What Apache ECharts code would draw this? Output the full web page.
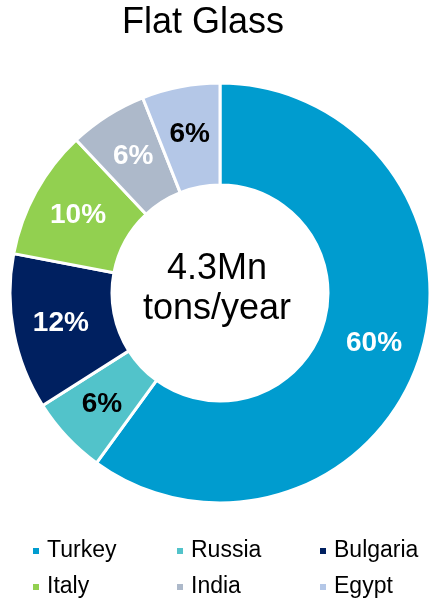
<!DOCTYPE html>
<html>
<head>
<meta charset="utf-8">
<script src="https://cdn.jsdelivr.net/npm/echarts@6/dist/echarts.min.js"></script>
<style>
html,body{margin:0;padding:0;background:#fff;}
#main{width:429px;height:601px;}
</style>
</head>
<body>
<div id="main"></div>
<script>
var categories = ['Turkey', 'Russia', 'Bulgaria', 'Italy', 'India', 'Egypt'];
var shares = [60, 6, 12, 10, 6, 6];
var sliceColors = ['#009CCF', '#52C3CA', '#002060', '#92D050', '#ADB9CA', '#B4C7E7'];
var labelColors = ['#fff', '#000', '#fff', '#fff', '#fff', '#000'];
var titleText = 'Flat Glass';
var centerText = '4.3Mn\ntons/year';

var FONT = '"Liberation Sans", Arial, sans-serif';
var chart = echarts.init(document.getElementById('main'), null, {renderer: 'canvas'});

var data = categories.map(function (c, i) {
  return {
    name: c,
    value: shares[i],
    itemStyle: {color: sliceColors[i]},
    label: {color: labelColors[i]}
  };
});

function legendFor(names, left) {
  return {
    orient: 'vertical',
    left: left,
    top: 539,
    data: names,
    icon: 'rect',
    itemWidth: 8,
    itemHeight: 8,
    itemGap: 12,
    padding: 0,
    selectedMode: false,
    textStyle: {fontFamily: FONT, fontSize: 23, color: '#000', lineHeight: 24, padding: [0, 0, 0, 2]}
  };
}

chart.setOption({
  animation: false,
  backgroundColor: '#fff',
  title: [
    {
      text: titleText,
      left: 122,
      top: 5,
      padding: 0,
      textStyle: {fontFamily: FONT, fontSize: 36, fontWeight: 'normal', color: '#000'}
    },
    {
      text: centerText,
      left: 217,
      top: 249,
      textAlign: 'center',
      padding: 0,
      textStyle: {fontFamily: FONT, fontSize: 36, fontWeight: 'normal', color: '#000', lineHeight: 40, align: 'center'}
    }
  ],
  legend: [
    legendFor([categories[0], categories[3]], 31),
    legendFor([categories[1], categories[4]], 175),
    legendFor([categories[2], categories[5]], 318)
  ],
  series: [{
    type: 'pie',
    center: [220, 293],
    radius: [108, 210],
    startAngle: 90,
    clockwise: true,
    avoidLabelOverlap: false,
    silent: true,
    itemStyle: {borderColor: '#fff', borderWidth: 3},
    label: {
      show: true,
      position: 'inside',
      fontFamily: FONT,
      fontSize: 28,
      fontWeight: 'bold',
      formatter: function (p) { return p.value + '%'; }
    },
    labelLine: {show: false},
    data: data
  }]
});
</script>
</body>
</html>
